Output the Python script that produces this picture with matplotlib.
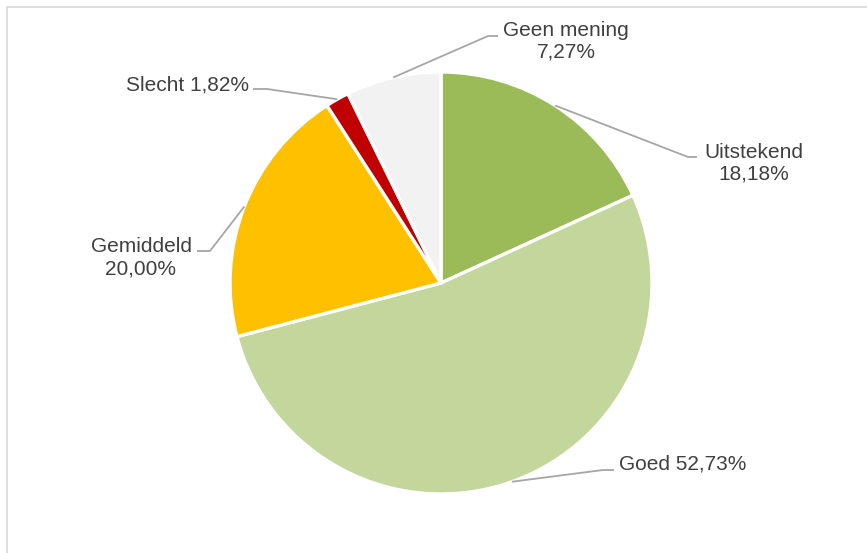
import numpy as np
import matplotlib.pyplot as plt
from matplotlib.patches import Rectangle

# Datos del gráfico
categorias = ['Uitstekend', 'Goed', 'Gemiddeld', 'Slecht', 'Geen mening']
porcentajes = [18.18, 52.73, 20.00, 1.82, 7.27]
colores = ['#9BBB59', '#C3D69B', '#FFC000', '#C00000', '#F2F2F2']

W, H = 867, 553
fig = plt.figure(figsize=(W / 100, H / 100), dpi=100)
ax = fig.add_axes([0, 0, 1, 1])

# Centro y radio del pastel (en píxeles, y desde abajo)
cx, cy, r = 441, H - 283, 211
wedges, _ = ax.pie(porcentajes, colors=colores, startangle=90, counterclock=False,
                   center=(cx, cy), radius=r,
                   wedgeprops=dict(edgecolor='white', linewidth=2.4))

# Posiciones de etiquetas: (codo, final de línea, posición del texto, alineación)
disposicion = {
    'Uitstekend': ((688, 157), (697, 157), (754, 163), 'center'),
    'Goed': ((603, 470), (614, 470), (619, 464), 'left'),
    'Gemiddeld': ((210, 251), (197, 251), (141, 258), 'center'),
    'Slecht': ((267, 89), (253, 89), (249, 85), 'right'),
    'Geen mening': ((488, 36), (498, 36), (566, 41), 'center'),
}

for w, cat, p in zip(wedges, categorias, porcentajes):
    ang = np.deg2rad((w.theta1 + w.theta2) / 2)
    ax0, ay0 = cx + r * np.cos(ang), cy + r * np.sin(ang)
    codo, fin, pos, ha = disposicion[cat]
    ax.plot([ax0, codo[0], fin[0]], [ay0, H - codo[1], H - fin[1]],
            color='#A6A6A6', linewidth=1.3, solid_capstyle='butt')
    valor = f'{p:.2f}%'.replace('.', ',')
    if ha == 'center':
        txt = f'{cat}\n{valor}'
    else:
        txt = f'{cat} {valor}'
    ax.text(pos[0], H - pos[1], txt, ha=ha, va='center', multialignment='center',
            fontsize=15, color='#404040', family='Liberation Sans', linespacing=1.2)

# Marco del gráfico
ax.add_patch(Rectangle((7, -10), W + 10, H - 7 + 10, fill=False,
                       edgecolor='#D9D9D9', linewidth=1.2))

ax.set_xlim(0, W)
ax.set_ylim(0, H)
ax.set_aspect('auto')
ax.axis('off')

fig.savefig('out.png', dpi=100)
